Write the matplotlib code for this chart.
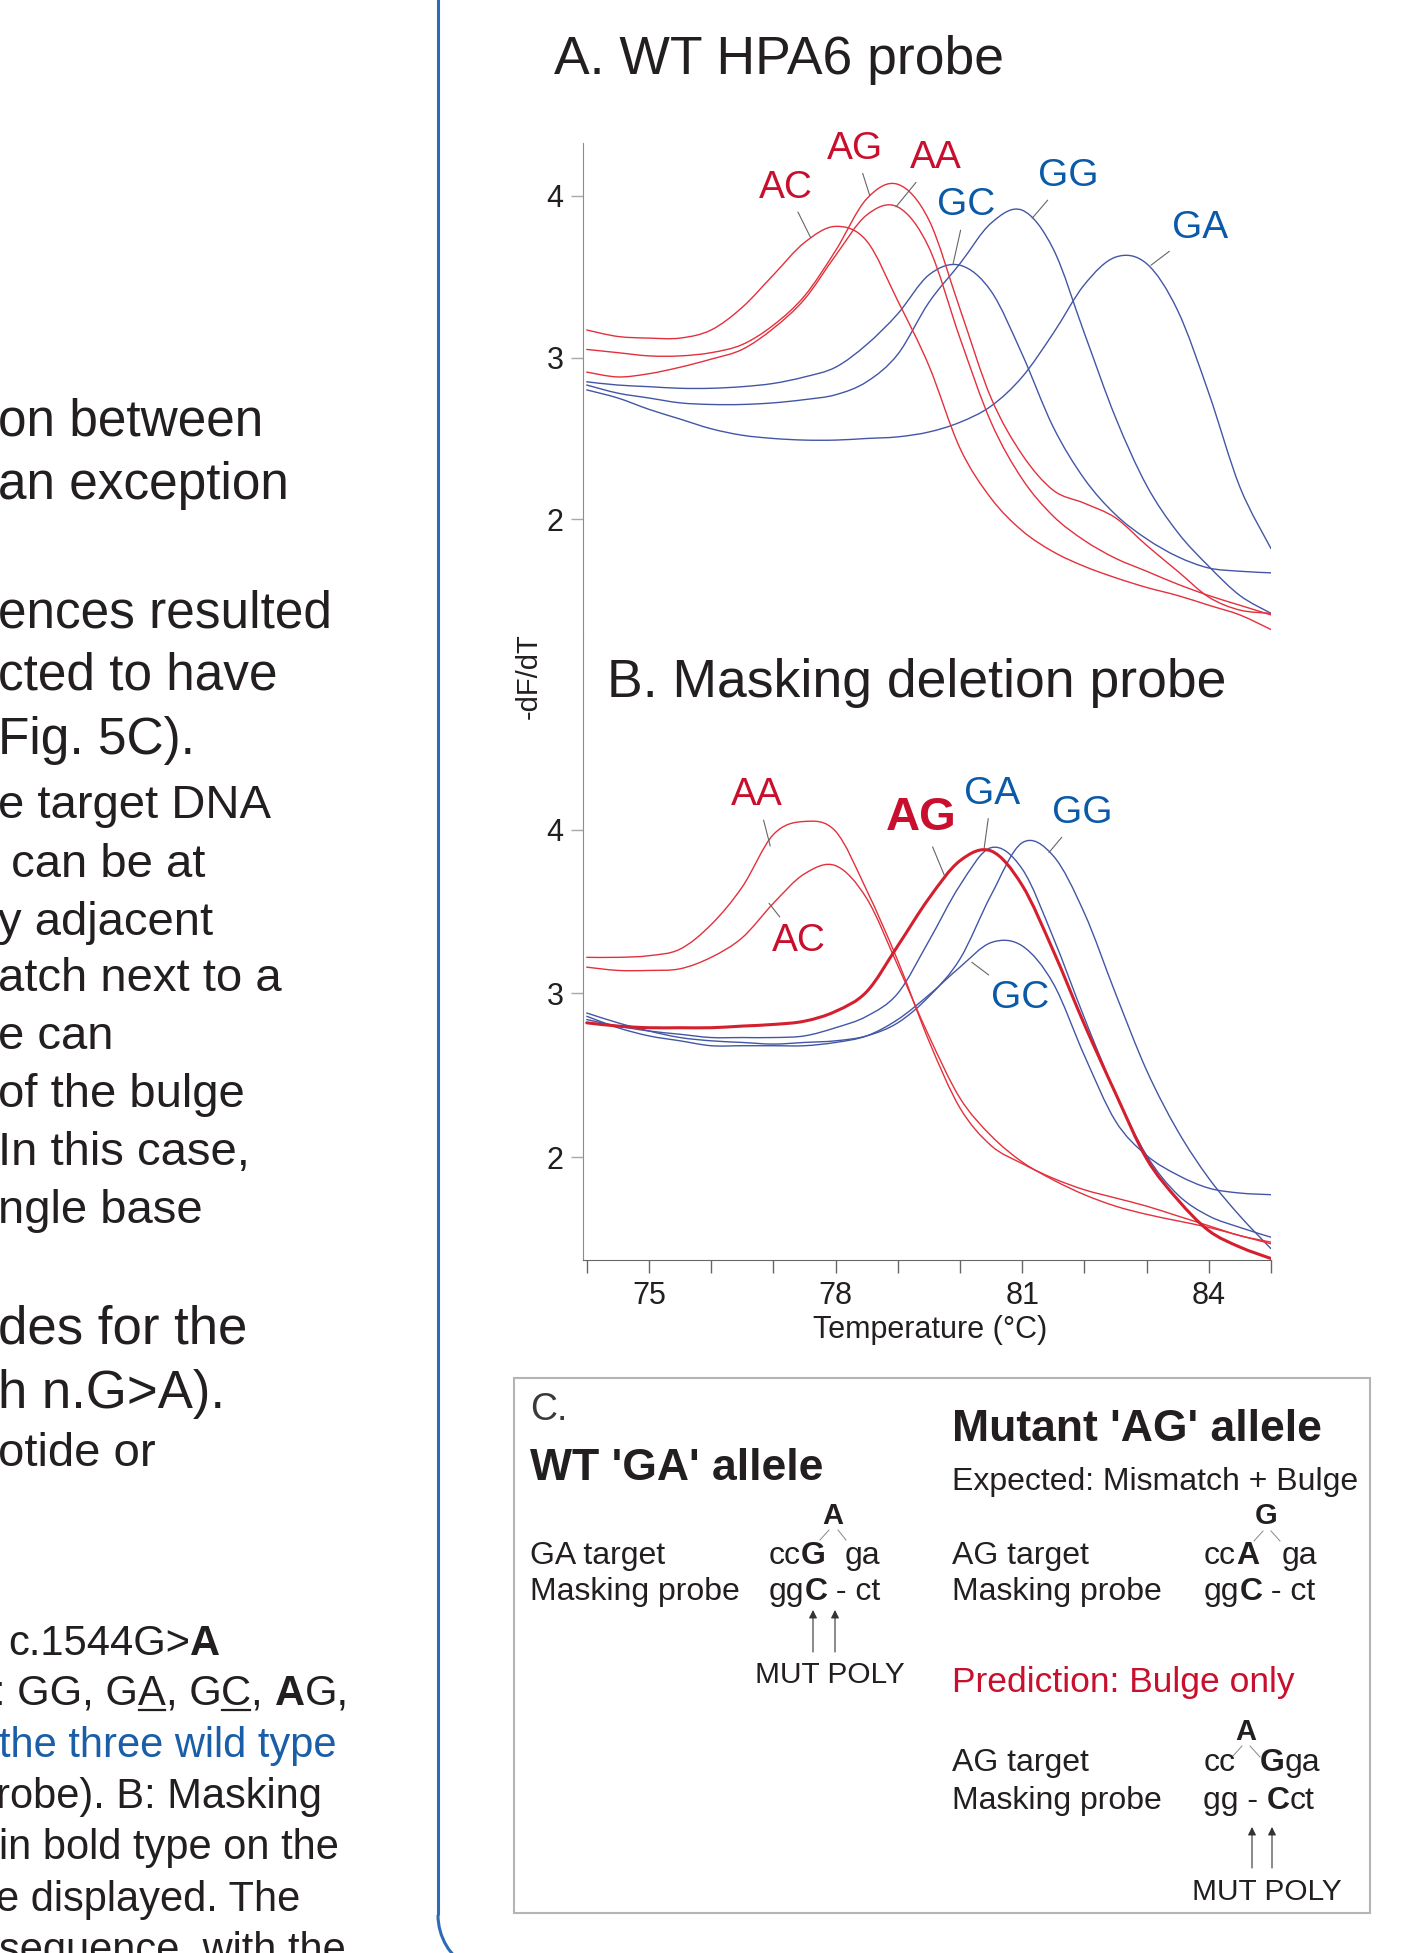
import matplotlib
matplotlib.use('Agg')
import matplotlib.pyplot as plt
from matplotlib.patches import Rectangle, Arc, PathPatch
from matplotlib.path import Path

plt.rcParams['font.family'] = ['Liberation Sans', 'DejaVu Sans']

# melting curves, -dF/dT every 0.5 degC
temps = [74, 74.5, 75, 75.5, 76, 76.5, 77, 77.5, 78, 78.5, 79, 79.5,
         80, 80.5, 81, 81.5, 82, 82.5, 83, 83.5, 84, 84.5, 85]

# A. WT HPA6 probe
a_ac = [3.17, 3.13, 3.12, 3.12, 3.17, 3.31, 3.51, 3.71, 3.81, 3.72, 3.35, 2.95,
        2.44, 2.13, 1.93, 1.80, 1.71, 1.64, 1.58, 1.53, 1.47, 1.41, 1.32]
a_ag = [3.05, 3.03, 3.01, 3.01, 3.03, 3.08, 3.20, 3.38, 3.66, 3.98, 4.07, 3.85,
        3.30, 2.75, 2.40, 2.18, 2.10, 2.01, 1.84, 1.68, 1.52, 1.44, 1.42]
a_aa = [2.91, 2.88, 2.90, 2.94, 2.99, 3.05, 3.18, 3.36, 3.63, 3.88, 3.93, 3.68,
        3.12, 2.60, 2.25, 2.02, 1.87, 1.76, 1.68, 1.60, 1.53, 1.47, 1.41]
a_gc = [2.85, 2.83, 2.82, 2.81, 2.81, 2.82, 2.84, 2.88, 2.94, 3.08, 3.27, 3.51,
        3.57, 3.41, 3.02, 2.57, 2.25, 2.03, 1.88, 1.77, 1.70, 1.68, 1.67]
a_gg = [2.83, 2.78, 2.75, 2.72, 2.71, 2.71, 2.72, 2.74, 2.77, 2.85, 3.02, 3.34,
        3.58, 3.83, 3.91, 3.67, 3.15, 2.63, 2.21, 1.92, 1.71, 1.53, 1.42]
a_ga = [2.80, 2.75, 2.68, 2.62, 2.56, 2.52, 2.50, 2.49, 2.49, 2.50, 2.51, 2.54,
        2.60, 2.70, 2.88, 3.15, 3.45, 3.62, 3.58, 3.29, 2.78, 2.20, 1.82]

# B. Masking deletion probe
b_aa = [3.22, 3.22, 3.23, 3.27, 3.42, 3.65, 3.97, 4.05, 3.99, 3.63, 3.20, 2.71,
        2.30, 2.07, 1.96, 1.87, 1.80, 1.75, 1.70, 1.64, 1.58, 1.52, 1.48]
b_ac = [3.16, 3.14, 3.14, 3.15, 3.22, 3.34, 3.55, 3.73, 3.78, 3.58, 3.17, 2.74,
        2.36, 2.13, 1.97, 1.86, 1.77, 1.70, 1.65, 1.61, 1.57, 1.52, 1.47]
b_ag = [2.82, 2.80, 2.79, 2.79, 2.79, 2.80, 2.81, 2.83, 2.89, 3.01, 3.29, 3.58,
        3.81, 3.87, 3.66, 3.26, 2.81, 2.39, 1.99, 1.74, 1.55, 1.45, 1.38]
b_ga = [2.84, 2.80, 2.77, 2.75, 2.73, 2.73, 2.73, 2.74, 2.79, 2.86, 3.00, 3.32,
        3.66, 3.89, 3.76, 3.34, 2.85, 2.39, 2.01, 1.77, 1.64, 1.57, 1.51]
b_gg = [2.88, 2.82, 2.77, 2.73, 2.71, 2.70, 2.69, 2.70, 2.71, 2.74, 2.82, 2.98,
        3.21, 3.60, 3.92, 3.84, 3.49, 3.00, 2.53, 2.16, 1.87, 1.64, 1.44]
b_gc = [2.86, 2.79, 2.74, 2.71, 2.68, 2.68, 2.68, 2.68, 2.70, 2.74, 2.84, 2.99,
        3.16, 3.31, 3.29, 3.06, 2.62, 2.22, 2.01, 1.89, 1.81, 1.78, 1.77]

x_ticks = [74, 75, 76, 77, 78, 79, 80, 81, 82, 83, 84, 85]
x_labels = ['', '75', '', '', '78', '', '', '81', '', '', '84', '']
y_ticks = [2, 3, 4]

RED = '#e3303c'
BLUE = '#4356a6'
RED_TXT = '#c8102e'
BLUE_TXT = '#0a5aa8'
INK = '#231f20'

W, H = 1425, 1953
fig = plt.figure(figsize=(W / 100, H / 100), dpi=100)

# overlay in pixel coordinates for the page text and panel C
ov = fig.add_axes([0, 0, 1, 1])
ov.set_xlim(0, W)
ov.set_ylim(H, 0)
ov.axis('off')
renderer = fig.canvas.get_renderer()


def text_width(s, size, weight='normal'):
    t = ov.text(0, 0, '|' + s + '|', fontsize=size, fontweight=weight)
    w1 = t.get_window_extent(renderer).width
    t.set_text('||')
    w2 = t.get_window_extent(renderer).width
    t.remove()
    return w1 - w2


def run(x, y, parts, size, color=INK):
    for item in parts:
        s, weight = item[0], item[1]
        col = item[2] if len(item) > 2 and item[2] else color
        ov.text(x, y, s, fontsize=size, fontweight=weight, color=col,
                va='baseline', ha='left')
        w = text_width(s, size, weight)
        if len(item) > 3 and item[3]:
            ov.plot([x + 1, x + w - 1], [y + 5, y + 5], color=col, lw=1.6)
        x += w
    return x


def curve(ax, xs, ys, color, lw):
    # smooth bezier path through the read points
    pts = list(zip(xs, ys))
    verts = [pts[0]]
    codes = [Path.MOVETO]
    n = len(pts)
    for i in range(n - 1):
        p0 = pts[i - 1] if i > 0 else pts[i]
        p1, p2 = pts[i], pts[i + 1]
        p3 = pts[i + 2] if i + 2 < n else pts[i + 1]
        c1 = (p1[0] + (p2[0] - p0[0]) / 6, p1[1] + (p2[1] - p0[1]) / 6)
        c2 = (p2[0] - (p3[0] - p1[0]) / 6, p2[1] - (p3[1] - p1[1]) / 6)
        verts += [c1, c2, p2]
        codes += [Path.CURVE4] * 3
    ax.add_patch(PathPatch(Path(verts, codes), fill=False, edgecolor=color,
                           lw=lw, capstyle='round', joinstyle='round'))


# body text cut off at the left edge of the page
body = [
    ('on between', 436, 37), ('an exception', 499, 37),
    ('ences resulted', 627, 37), ('cted to have', 690, 37), ('Fig. 5C).', 754, 37),
    ('e target DNA', 818, 34), (' can be at', 877, 34), ('y adjacent', 935, 34),
    ('atch next to a', 991, 34), ('e can', 1049, 34), ('of the bulge', 1107, 34),
    ('In this case,', 1165, 34), ('ngle base', 1223, 34),
    ('des for the', 1344, 38), ('h n.G>A).', 1408, 38), ('otide or', 1466, 34),
]
for s, yb, sz in body:
    ov.text(-2, yb, s, fontsize=sz, color=INK, va='baseline', ha='left')

run(8, 1655, [('c.1544G>', 'normal'), ('A', 'bold')], 30)
run(-6, 1705, [(': GG, G', 'normal'), ('A', 'normal', None, True), (', G', 'normal'),
               ('C', 'normal', None, True), (', ', 'normal'), ('A', 'bold'),
               ('G,', 'normal')], 30)
ov.text(-1, 1757, 'the three wild type', fontsize=30, color='#1a5ea8', va='baseline')
ov.text(-4, 1808, 'robe). B: Masking', fontsize=30, color=INK, va='baseline')
ov.text(-1, 1859, 'in bold type on the', fontsize=30, color=INK, va='baseline')
ov.text(-4, 1911, 'e displayed. The', fontsize=30, color=INK, va='baseline')
ov.text(-1, 1962, 'sequence, with the', fontsize=30, color=INK, va='baseline')

# blue frame line with rounded corner
ov.plot([438, 438], [-5, 1915], color='#2b6cb8', lw=2.2, solid_capstyle='butt')
ov.add_patch(Arc((498, 1915), 120, 120, theta1=118, theta2=180,
                 color='#2b6cb8', lw=2.2))

# panel titles and axis labels
ov.text(554, 74, 'A. WT HPA6 probe', fontsize=38.5, color=INK, va='baseline')
ov.text(607, 697, 'B. Masking deletion probe', fontsize=38.5, color=INK, va='baseline')
ov.text(529, 676, '-dF/dT', fontsize=21, color=INK, rotation=90,
        ha='center', va='center')
ov.text(930, 1330, 'Temperature (\u00b0C)', fontsize=22, color=INK,
        ha='center', va='center')


def setup(ax, ylim, bottom):
    ax.set_xlim(73.94, 85.0)
    ax.set_ylim(*ylim)
    ax.set_facecolor('none')
    ax.spines['top'].set_visible(False)
    ax.spines['right'].set_visible(False)
    ax.spines['left'].set_color('#8c8c8c')
    ax.set_yticks(y_ticks)
    ax.tick_params(axis='y', length=9, width=1, color='#a8a8a8', labelsize=22,
                   labelcolor=INK, pad=5)
    if bottom:
        ax.spines['bottom'].set_color('#666666')
        ax.set_xticks(x_ticks)
        ax.set_xticklabels(x_labels)
        ax.tick_params(axis='x', length=9, width=1, color='#666666', labelsize=22,
                       labelcolor=INK, pad=6)
    else:
        ax.spines['bottom'].set_visible(False)
        ax.set_xticks([])


axA = fig.add_axes([583 / W, 1 - 636 / H, 688 / W, 493 / H])
axB = fig.add_axes([583 / W, 1 - 1260 / H, 688 / W, 624 / H])
setup(axA, (1.28, 4.325), False)
setup(axB, (1.371, 5.183), True)

for ys in [a_gc, a_gg, a_ga]:
    curve(axA, temps, ys, BLUE, 1.0)
for ys in [a_ac, a_ag, a_aa]:
    curve(axA, temps, ys, RED, 1.0)

for ys in [b_ga, b_gg, b_gc]:
    curve(axB, temps, ys, BLUE, 1.0)
for ys in [b_aa, b_ac]:
    curve(axB, temps, ys, RED, 1.0)
curve(axB, temps, b_ag, '#d4202e', 2.2)

lead = dict(arrowstyle='-', color='#666666', lw=0.8, shrinkA=3, shrinkB=0)
labels_a = [
    ('AC', RED_TXT, (77.60, 3.74), (77.20, 4.05)),
    ('AG', RED_TXT, (78.55, 4.00), (78.31, 4.29)),
    ('AA', RED_TXT, (78.97, 3.93), (79.61, 4.23)),
    ('GC', BLUE_TXT, (79.89, 3.58), (80.10, 3.94)),
    ('GG', BLUE_TXT, (81.16, 3.86), (81.74, 4.12)),
    ('GA', BLUE_TXT, (83.07, 3.57), (83.86, 3.80)),
]
for s, c, xy, xt in labels_a:
    axA.annotate(s, xy=xy, xytext=xt, color=c, fontsize=28, ha='center',
                 va='center', arrowprops=lead)

labels_b = [
    ('AA', RED_TXT, 'normal', 28, (76.95, 3.90), (76.74, 4.21)),
    ('AC', RED_TXT, 'normal', 28, (76.93, 3.55), (77.41, 3.32)),
    ('AG', RED_TXT, 'bold', 34, (79.75, 3.72), (79.37, 4.07)),
    ('GA', BLUE_TXT, 'normal', 28, (80.39, 3.89), (80.51, 4.22)),
    ('GG', BLUE_TXT, 'normal', 28, (81.43, 3.86), (81.96, 4.10)),
    ('GC', BLUE_TXT, 'normal', 28, (80.19, 3.19), (80.96, 2.97)),
]
for s, c, wt, sz, xy, xt in labels_b:
    axB.annotate(s, xy=xy, xytext=xt, color=c, fontsize=sz, fontweight=wt,
                 ha='center', va='center', arrowprops=lead)

# panel C
ov.add_patch(Rectangle((514, 1378), 856, 535, fill=False, edgecolor='#b4b4b4', lw=1.5))
ov.text(530, 1420, 'C.', fontsize=27, color='#3a3a3a', va='baseline')
ov.text(530, 1480, "WT 'GA' allele", fontsize=32, fontweight='bold', color=INK, va='baseline')
ov.text(952, 1441, "Mutant 'AG' allele", fontsize=32, fontweight='bold', color=INK, va='baseline')
ov.text(952, 1490, 'Expected: Mismatch + Bulge', fontsize=23, color=INK, va='baseline')
ov.text(952, 1692, 'Prediction: Bulge only', fontsize=25.5, color=RED_TXT, va='baseline')

for x0, y1, y2, tgt in [(530, 1564, 1600, 'GA target'), (952, 1564, 1600, 'AG target'),
                        (952, 1771, 1809, 'AG target')]:
    ov.text(x0, y1, tgt, fontsize=23, color=INK, va='baseline')
    ov.text(x0, y2, 'Masking probe', fontsize=23, color=INK, va='baseline')

SEQ = 23
# WT duplex
run(769, 1564, [('cc', 'normal'), ('G', 'bold')], SEQ)
ov.text(845, 1564, 'ga', fontsize=SEQ, color=INK, va='baseline')
run(769, 1600, [('gg', 'normal'), ('C', 'bold'), (' - ct', 'normal')], SEQ)
ov.text(833, 1524, 'A', fontsize=21, fontweight='bold', color=INK, ha='center', va='baseline')
ov.plot([820, 829], [1540, 1530], color='#888888', lw=0.7)
ov.plot([838, 846], [1530, 1540], color='#888888', lw=0.7)

# mutant, expected
run(1204, 1564, [('cc', 'normal'), ('A', 'bold')], SEQ)
ov.text(1282, 1564, 'ga', fontsize=SEQ, color=INK, va='baseline')
run(1204, 1600, [('gg', 'normal'), ('C', 'bold'), (' - ct', 'normal')], SEQ)
ov.text(1266, 1524, 'G', fontsize=21, fontweight='bold', color=INK, ha='center', va='baseline')
ov.plot([1254, 1263], [1541, 1531], color='#888888', lw=0.7)
ov.plot([1271, 1280], [1531, 1541], color='#888888', lw=0.7)

# mutant, prediction
ov.text(1204, 1771, 'cc', fontsize=SEQ, color=INK, va='baseline')
run(1260, 1771, [('G', 'bold'), ('ga', 'normal')], SEQ)
run(1203, 1809, [('gg - ', 'normal'), ('C', 'bold'), ('ct', 'normal')], SEQ)
ov.text(1246, 1740, 'A', fontsize=21, fontweight='bold', color=INK, ha='center', va='baseline')
ov.plot([1232, 1242], [1757, 1746], color='#888888', lw=0.7)
ov.plot([1250, 1260], [1746, 1757], color='#888888', lw=0.7)

arrow = dict(arrowstyle='-|>', color='#333333', lw=0.8, mutation_scale=12,
             shrinkA=0, shrinkB=0)
for xa, ya, yb in [(813, 1652, 1610), (835, 1652, 1610),
                   (1252, 1868, 1827), (1272, 1868, 1827)]:
    ov.annotate('', xy=(xa, yb), xytext=(xa, ya), arrowprops=arrow)

ov.text(755, 1683, 'MUT POLY', fontsize=21.5, color=INK, va='baseline')
ov.text(1192, 1900, 'MUT POLY', fontsize=21.5, color=INK, va='baseline')

fig.savefig('out.png', dpi=100)
